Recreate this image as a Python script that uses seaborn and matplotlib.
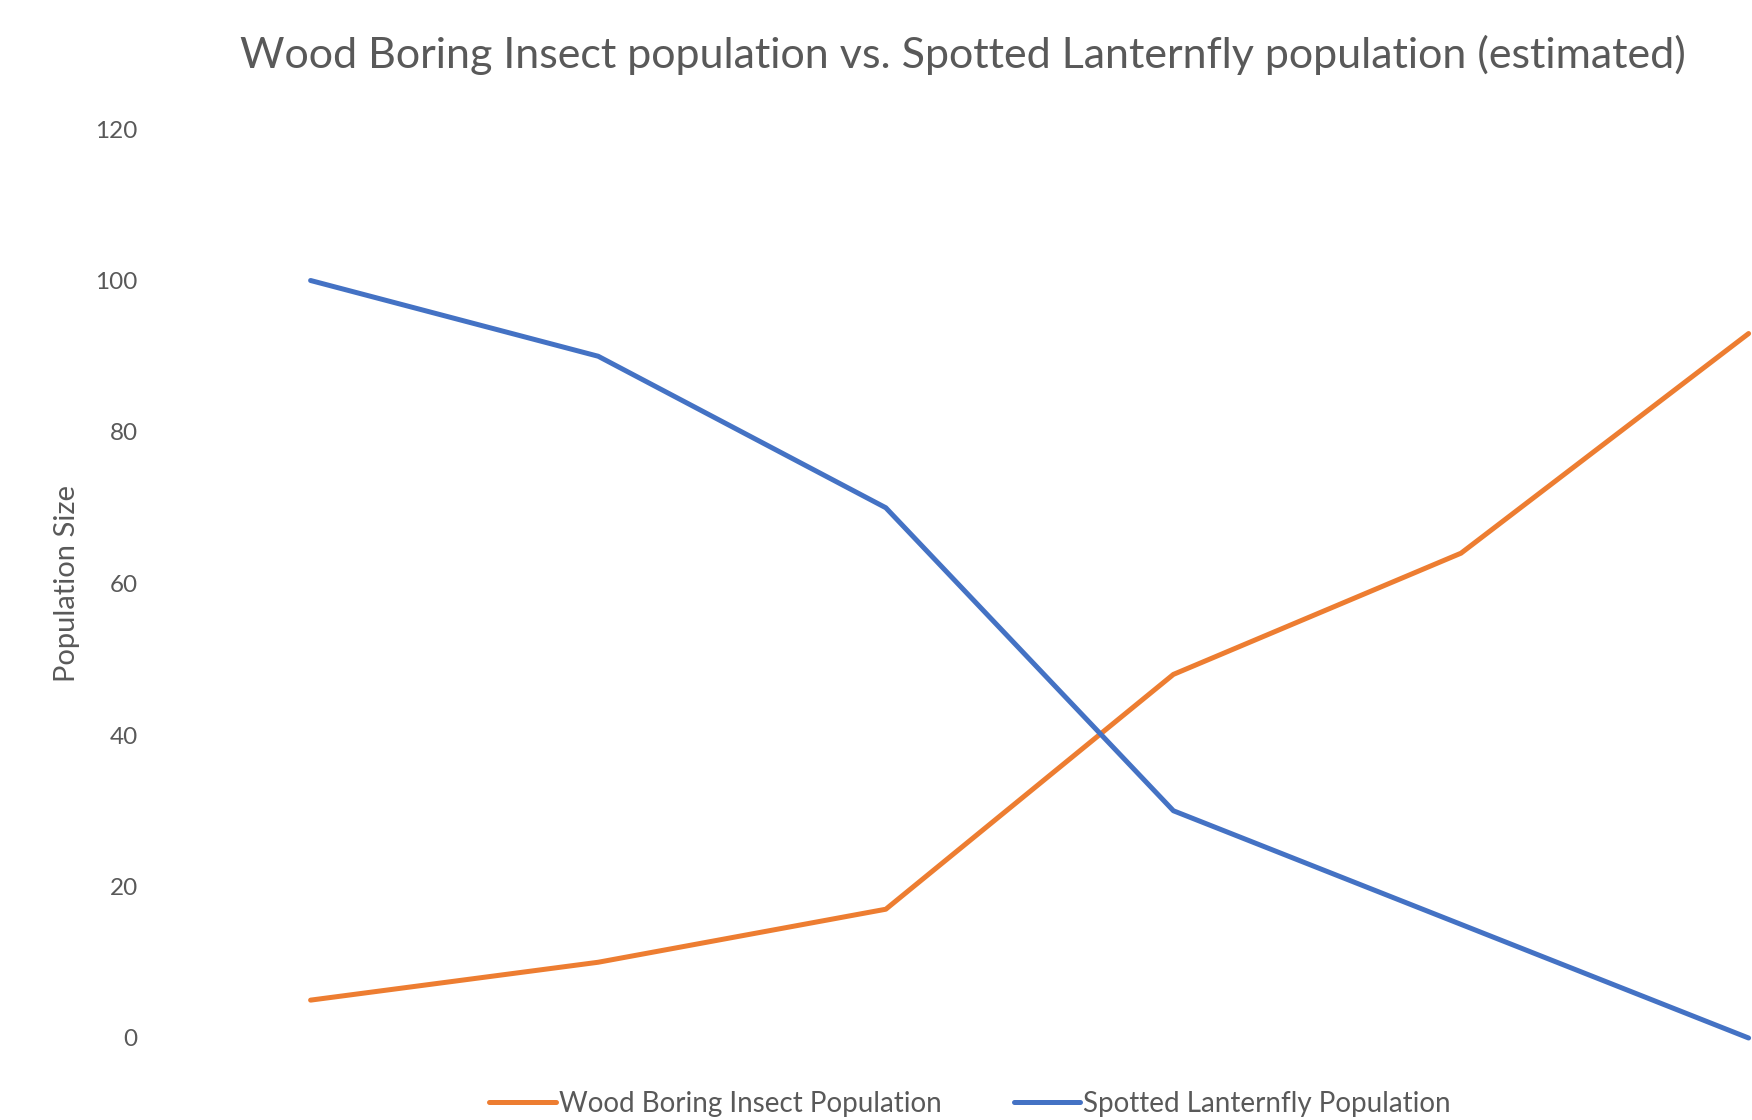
import matplotlib
matplotlib.use("Agg")
import matplotlib.pyplot as plt
import seaborn as sns
import pandas as pd

# Estimated populations over six successive periods
periods = [1, 2, 3, 4, 5, 6]
wood_boring = [5, 10, 17, 48, 64, 93]
lanternfly = [100, 90, 70, 30, 15, 0]
series_names = ["Wood Boring Insect Population", "Spotted Lanternfly Population"]
y_ticks = [0, 20, 40, 60, 80, 100, 120]

df = pd.DataFrame({
    "period": periods * 2,
    "population": wood_boring + lanternfly,
    "series": [series_names[0]] * len(periods) + [series_names[1]] * len(periods),
})

sns.set_theme(style="white")
plt.rcParams["font.family"] = ["Lato", "DejaVu Sans"]
text_grey = "#595959"

fig = plt.figure(figsize=(17.52, 11.2), dpi=100)
W, H = 1752, 1120
# axes: x=1 at px 310.6, spacing 287.6 px; y=0 at px 1038, y=120 at px 129
left_px = 310.6 - 287.6 * 0.5
ax = fig.add_axes([left_px / W, (H - 1038) / H, (W - left_px) / W, (1038 - 129) / H])

palette = {series_names[0]: "#ED7D31", series_names[1]: "#4472C4"}
sns.lineplot(data=df, x="period", y="population", hue="series", palette=palette,
             linewidth=3.6, sort=False, ax=ax, legend=False)
for line in ax.lines:
    line.set_clip_on(False)
    line.set_solid_joinstyle("round")

ax.set_xlim(0.5, 1 + (W - 310.6) / 287.6)
ax.set_ylim(0, 120)
ax.set_yticks(y_ticks)
ax.set_xticks([])
ax.tick_params(axis="y", length=0, pad=21, labelsize=17.5, labelcolor=text_grey)
for s in ax.spines.values():
    s.set_visible(False)
ax.set_xlabel("")
ax.set_ylabel("")

fig.text(67 / W, 1 - 583 / H, "Population Size", rotation=90, ha="center", va="center",
         fontsize=21, color=text_grey)
fig.text(963 / W, 1 - 55 / H, "Wood Boring Insect population vs. Spotted Lanternfly population (estimated)",
         ha="center", va="center", fontsize=31, color=text_grey)

handles = [plt.Line2D([], [], color=palette[n], linewidth=3.6) for n in series_names]
fig.legend(handles, series_names, loc="center", bbox_to_anchor=(970 / W, 1 - 1104 / H),
           ncol=2, frameon=False, fontsize=20, labelcolor=text_grey,
           handlelength=2.4, handletextpad=0.1, columnspacing=2.6)

fig.savefig("out.png", dpi=100, facecolor="white")
